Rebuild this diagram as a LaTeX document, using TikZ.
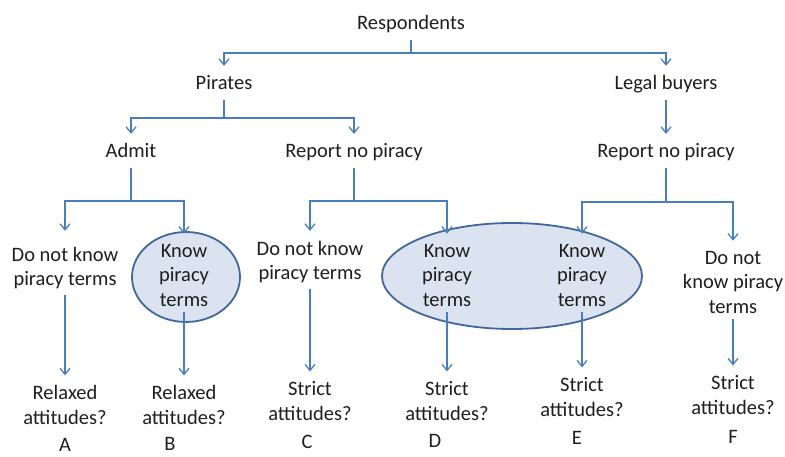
\documentclass[tikz,border=0pt]{standalone}
\usepackage{fontspec}
\setmainfont{Carlito}
\usepackage{tikz}
\usetikzlibrary{arrows.meta, positioning}
\definecolor{linkblue}{HTML}{4A7EBB}
\definecolor{bubblefill}{HTML}{DCE3F0}
\definecolor{bubbleedge}{HTML}{41689A}
\definecolor{txt}{HTML}{1E1E1E}

\begin{document}
\begin{tikzpicture}[x=1pt, y=-1pt,
        every node/.style={font=\fontsize{20.5}{24.5}\selectfont, text=txt, align=center, inner xsep=2pt, inner ysep=6pt},
        lbl/.style={text height=14pt, text depth=4pt},
        link/.style={draw=linkblue, line width=1.3pt},
        arr/.style={link, -{Straight Barb[length=6pt, width=10pt]}, shorten >=4pt},
        bubble/.style={fill=bubblefill, draw=bubbleedge, line width=1.8pt}]
        \useasboundingbox (0,0) rectangle (785,457);
        % Shaded groups behind the text
        \draw[bubble] (186,277) ellipse [x radius=54, y radius=45];
        \draw[bubble] (512,276) ellipse [x radius=130, y radius=53];
        % Top levels
        \node[lbl] (resp) at (411,25) {Respondents};
        \node[lbl] (pir) at (224,85) {Pirates};
        \node[lbl] (legal) at (666,85) {Legal buyers};
        \node[lbl] (admit) at (131,153) {Admit};
        \node[lbl] (rep1) at (354,153) {Report no piracy};
        \node[lbl] (rep2) at (666,153) {Report no piracy};
        % Third level
        \node (kA) at (65,268) {Do not know\\piracy terms};
        \node (kB) at (184,275) {Know\\piracy\\terms};
        \node (kC) at (310,262) {Do not know\\piracy terms};
        \node (kD) at (447,275) {Know\\piracy\\terms};
        \node (kE) at (582,275) {Know\\piracy\\terms};
        \node (kF) at (733,282) {Do not\\know piracy\\terms};
        % Outcomes
        \node (oA) at (65,405) {Relaxed\\attitudes?};
        \node (oB) at (184,405) {Relaxed\\attitudes?};
        \node (oC) at (310,401) {Strict\\attitudes?};
        \node (oD) at (447,401) {Strict\\attitudes?};
        \node (oE) at (582,397) {Strict\\attitudes?};
        \node (oF) at (733,395) {Strict\\attitudes?};
        \node[lbl] (lA) at (65,446) {A};
        \node[lbl] (lB) at (170,445) {B};
        \node[lbl] (lC) at (307,443) {C};
        \node[lbl] (lD) at (435,442) {D};
        \node[lbl] (lE) at (577,439) {E};
        \node[lbl] (lF) at (733,438) {F};
        % Junctions
        \coordinate (j0) at (411,53);
        \coordinate (j1) at (224,118);
        \coordinate (j2) at (131,201);
        \coordinate (j3) at (354,201);
        \coordinate (j4) at (666,202);
        % Connectors
        \draw[link] (resp) -- (j0);
        \draw[arr] (j0) -| (pir);
        \draw[arr] (j0) -| (legal);
        \draw[link] (pir) -- (j1);
        \draw[arr] (j1) -| (admit);
        \draw[arr] (j1) -| (rep1);
        \draw[arr] (legal) -- (rep2);
        \draw[link] (admit) -- (j2);
        \draw[arr, shorten >=10pt] (j2) -| (kA);
        \draw[arr] (j2) -| (kB);
        \draw[link] (rep1) -- (j3);
        \draw[arr] (j3) -| (kC);
        \draw[arr] (j3) -| (kD);
        \draw[link] (rep2) -- (j4);
        \draw[arr] (j4) -| (kE);
        \draw[arr] (j4) -| (kF);
        \foreach \k in {A,B,C,D,E,F}
            \draw[arr] (k\k) -- (o\k);
    \end{tikzpicture}
\end{document}
